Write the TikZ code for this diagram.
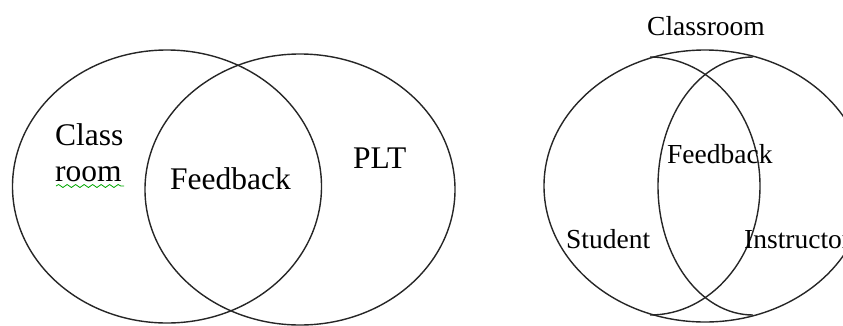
\documentclass[tikz,border=0pt]{standalone}
\usepackage{fontspec}
\setmainfont{Liberation Serif}
\usetikzlibrary{shapes.geometric,decorations.pathmorphing}
\begin{document}
\begin{tikzpicture}[x=1pt,y=-1pt,
  setring/.style={draw=black!85,line width=1.4pt,ellipse,inner sep=0pt,
    minimum width=#1},
  biglabel/.style={anchor=base west,inner sep=0pt,font=\fontsize{31.5}{36}\selectfont},
  smalllabel/.style={anchor=base west,inner sep=0pt,font=\fontsize{27.5}{32}\selectfont},
  squiggle/.style={draw=green!65!black,line width=0.8pt,
    decorate,decoration={snake,amplitude=1.5pt,segment length=8.5pt}}]
\useasboundingbox (0,0) rectangle (843,325);
\clip (0,0) rectangle (843,325);
% left pair of sets
\node[setring=309pt,minimum height=273pt] (roomset) at (167,186.5) {};
\node[setring=310pt,minimum height=271pt] (pltset) at (300,189.5) {};
\node[biglabel] (class) at (55,145) {Class};
\node[biglabel] (room) at (55,181) {room};
\node[biglabel] (fb1) at (170,189) {Feedback};
\node[biglabel] (plt) at (353,168) {PLT};
\draw[squiggle] (room.base west) ++(1,5) -- ++(68,0);
% right figure: outer ring with two inner arcs
\node[setring=322pt,minimum height=272pt] (outer) at (705,186) {};
\begin{scope}
  \clip (650,0) rectangle (843,325);
  \node[setring=220pt,minimum height=258pt] (studentarc) at (650,186) {};
\end{scope}
\begin{scope}
  \clip (0,0) rectangle (753,325);
  \node[setring=190pt,minimum height=258pt] (instructorarc) at (753,186) {};
\end{scope}
\node[smalllabel] (classroom) at (647,35) {Classroom};
\node[smalllabel] (fb2) at (667,163) {Feedback};
\node[smalllabel] (stud) at (566,248) {Student};
\node[smalllabel] (instr) at (744,248) {Instructor};
\end{tikzpicture}
\end{document}
